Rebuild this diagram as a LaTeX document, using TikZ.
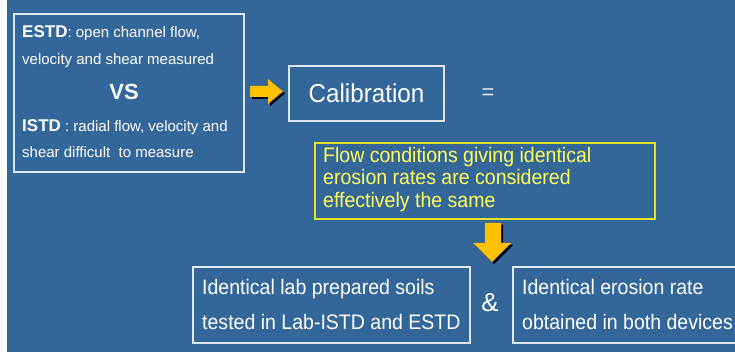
\documentclass[tikz,border=0pt]{standalone}
\usepackage{fontspec}
\setmainfont{Liberation Sans}
\newfontfamily\narrowsans[FakeStretch=0.93]{Liberation Sans}
\usetikzlibrary{positioning}
\definecolor{bgblue}{RGB}{51,102,153}
\definecolor{boxline}{RGB}{222,230,240}
\definecolor{ybox}{RGB}{226,226,40}
\definecolor{ytext}{RGB}{255,255,90}
\definecolor{gold}{RGB}{255,192,0}
\tikzset{%
  bx/.style={draw=boxline,line width=1.1pt,inner sep=0pt},
  ybx/.style={draw=ybox,line width=1.1pt,inner sep=0pt},
  small/.style={anchor=base west,inner sep=0pt,text=white,font=\fontsize{15}{18}\selectfont},
  big/.style={anchor=base west,inner sep=0pt,text=white,font=\narrowsans\fontsize{21}{25}\selectfont},
  ybig/.style={big,text=ytext}
}

\begin{document}
\begin{tikzpicture}[x=1pt,y=-1pt]
  \clip (0,0) rectangle (735,352);
  \fill[bgblue] (7,0) rectangle (735,352);

  % left box
  \node[bx,minimum width=230pt,minimum height=158pt] (cmp) at (129,93) {};
  \node[small] (estd) at (22,38) {{\bfseries\fontsize{17}{20}\selectfont ESTD}: open channel flow,};
  \node[small] (estd2) at (22,65) {velocity and shear measured};
  \node[anchor=base,inner sep=0pt,text=white,font=\bfseries\fontsize{22}{26}\selectfont] (vs) at (124,100) {VS};
  \node[small] (istd) at (22,132) {{\bfseries\fontsize{17}{20}\selectfont ISTD} : radial flow, velocity and};
  \node[small] (istd2) at (22,158) {shear difficult\ \ to measure};

  % arrow to calibration
  \foreach \d/\c in {2/black,0/gold}
    \fill[\c,xshift=\d pt,yshift=-\d pt] (250,86) -- (268,86) -- (268,79) -- (283,91.5)
      -- (268,104) -- (268,97) -- (250,97) -- cycle;

  \node[bx,minimum width=155pt,minimum height=55pt,text=white,
        font=\narrowsans\fontsize{26}{30}\selectfont] (calib) at (366.5,93.5) {Calibration};
  \node[text=boxline,font=\fontsize{22}{26}\selectfont] (eq) at (488,94) {=};

  % flow conditions
  \node[ybx,minimum width=340pt,minimum height=76pt] (fcond) at (485,181) {};
  \node[ybig] (fc1) at (323,163) {Flow conditions giving identical};
  \node[ybig] (fc2) at (323,185) {erosion rates are considered};
  \node[ybig] (fc3) at (323,208) {effectively the same};

  % arrow down
  \foreach \d/\c in {2/black,0/gold}
    \fill[\c,xshift=\d pt,yshift=-\d pt] (485,223) -- (501,223) -- (501,243) -- (511,243)
      -- (492,262) -- (473,243) -- (485,243) -- cycle;

  % bottom boxes
  \node[bx,minimum width=277pt,minimum height=76pt] (soils) at (331.5,305) {};
  \node[big] (s1) at (202,294) {Identical lab prepared soils};
  \node[big] (s2) at (202,329) {tested in Lab-ISTD and ESTD};
  \node[text=white,font=\fontsize{26}{30}\selectfont] (amp) at (490,303) {\&};
  \node[bx,minimum width=247pt,minimum height=76pt] (rate) at (636.5,305) {};
  \node[big] (r1) at (522,294) {Identical erosion rate};
  \node[big] (r2) at (522,329) {obtained in both devices};
\end{tikzpicture}
\end{document}
